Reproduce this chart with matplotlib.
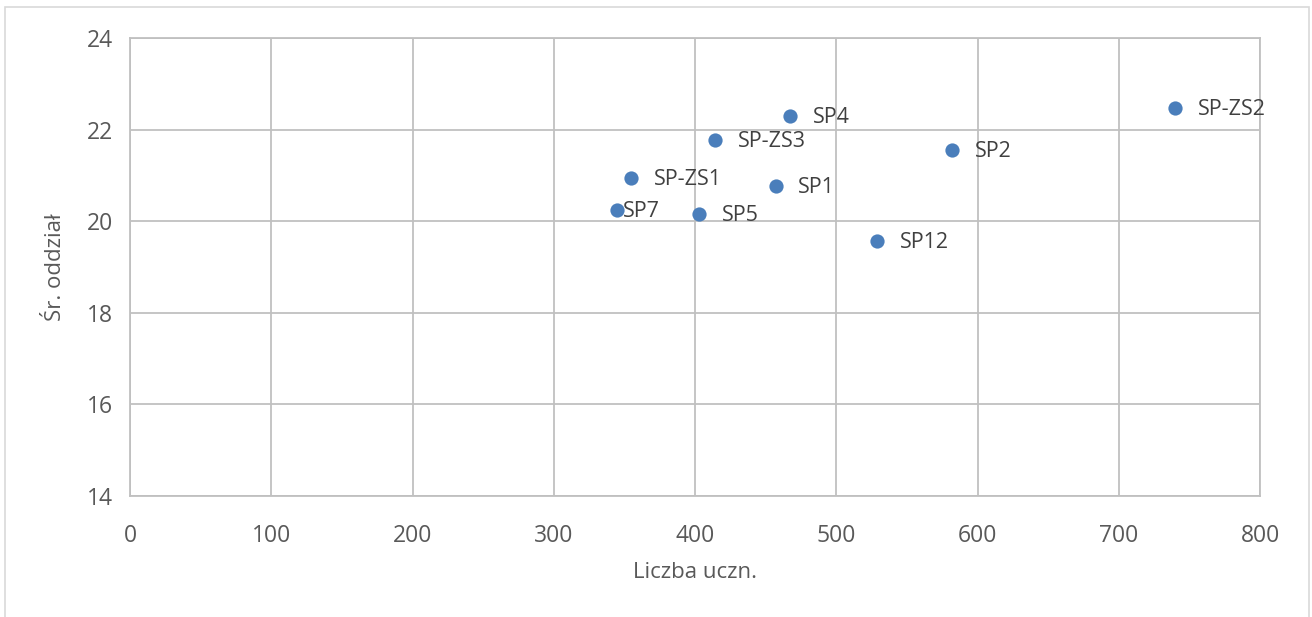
import matplotlib.pyplot as plt
from matplotlib.patches import Rectangle

# liczba uczniów i średnia wielkość oddziału w szkołach
szkoly = ["SP-ZS2", "SP4", "SP-ZS3", "SP2", "SP-ZS1", "SP1", "SP7", "SP5", "SP12"]
liczba_uczn = [740, 467, 414, 582, 355, 457, 345, 403, 529]
sr_oddzial = [22.47, 22.30, 21.77, 21.55, 20.94, 20.77, 20.24, 20.16, 19.57]

gray_text = '#595959'
grid_col = '#c0c0c0'
blue = '#4a7ebb'

plt.rcParams['font.family'] = ['Open Sans', 'DejaVu Sans']

fig = plt.figure(figsize=(13.12, 6.17), dpi=100)
ax = fig.add_axes([130/1312, 1 - 496/617, 1130/1312, 458/617])

ax.scatter(liczba_uczn, sr_oddzial, s=105, color=blue, zorder=3, linewidths=0)

for name, x, y in zip(szkoly, liczba_uczn, sr_oddzial):
    dx = 4 if name == "SP7" else 16.5
    ax.annotate(name, (x, y), xytext=(dx, -1), textcoords='offset points',
                ha='left', va='center', fontsize=15.5, color='#404040')

ax.set_xlim(0, 800)
ax.set_ylim(14, 24)
ax.set_xticks(range(0, 801, 100))
ax.set_yticks(range(14, 25, 2))
ax.grid(True, color=grid_col, linewidth=1.3)
ax.set_axisbelow(True)
for sp in ax.spines.values():
    sp.set_color(grid_col)
    sp.set_linewidth(1.3)
ax.tick_params(length=0, labelsize=16.5, colors=gray_text)
ax.tick_params(axis='x', pad=20)
ax.tick_params(axis='y', pad=12)

ax.set_xlabel('Liczba uczn.', fontsize=16, color=gray_text)
ax.set_ylabel('Śr. oddział', fontsize=16, color=gray_text)
ax.xaxis.set_label_coords(0.5, (496 - 562) / 458)
ax.yaxis.set_label_coords((66 - 130) / 1130, 0.5)

# ramka wykresu
fig.patches.append(Rectangle((5/1312, -0.05), 1304/1312, 1.05 - 7/617,
                             transform=fig.transFigure, fill=False,
                             edgecolor='#d9d9d9', linewidth=1.2))

plt.savefig('out.png', dpi=100, facecolor='white')
